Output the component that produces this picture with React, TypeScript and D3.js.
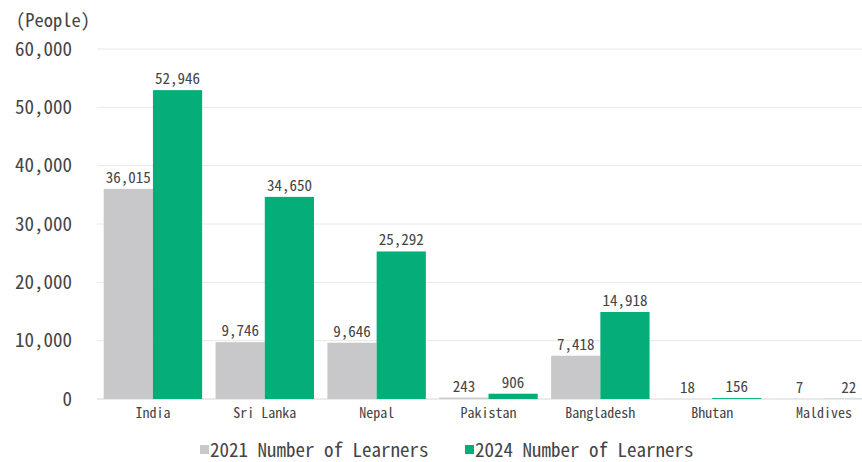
import React from 'react';
import * as d3 from 'd3';

const countries = ['India', 'Sri Lanka', 'Nepal', 'Pakistan', 'Bangladesh', 'Bhutan', 'Maldives'];
const learners2021 = [36015, 9746, 9646, 243, 7418, 18, 7];
const learners2024 = [52946, 34650, 25292, 906, 14918, 156, 22];
const yTicks = [0, 10000, 20000, 30000, 40000, 50000, 60000];
const seriesNames = ['2021 Number of Learners', '2024 Number of Learners'];
const colors = ['#c8c8ca', '#05ae78'];

const W = 862, H = 462;
const font = '"Noto Sans Mono CJK JP", "Liberation Mono", monospace';
const fmt = d3.format(',');

export default function App() {
  const x = d3.scaleBand<string>().domain(countries).range([97, 880]).paddingInner(0.12).paddingOuter(0.06);
  const sub = d3.scaleBand<number>().domain([0, 1]).range([0, x.bandwidth()]);
  const y = d3.scaleLinear().domain([0, 60000]).range([399, 49]);
  const series = [learners2021, learners2024];

  return (
    <svg width={W} height={H} style={{ position: 'absolute', left: 0, top: 0, background: '#fff' }} fontFamily={font}>
      <text x={16} y={27} fontSize={18.5} fill="#444">(People)</text>
      {yTicks.map(t => (
        <g key={t}>
          <line x1={97} x2={W} y1={y(t)} y2={y(t)} stroke={t === 0 ? '#d6d6d6' : '#e8e8e8'} strokeWidth={1} />
          <text x={72} y={y(t)} dy="0.35em" textAnchor="end" fontSize={19} fill="#444">{fmt(t)}</text>
        </g>
      ))}
      {countries.map((c, i) => (
        <g key={c}>
          {series.map((s, k) => {
            const bx = (x(c) as number) + (sub(k) as number);
            const v = s[i];
            return (
              <g key={k}>
                <rect x={bx} y={y(v)} width={sub.bandwidth()} height={y(0) - y(v)} fill={colors[k]} />
                <text x={bx + sub.bandwidth() / 2} y={y(v) - 6} textAnchor="middle" fontSize={15} fill="#444">{fmt(v)}</text>
              </g>
            );
          })}
          <text x={(x(c) as number) + x.bandwidth() / 2} y={418} textAnchor="middle" fontSize={14} fill="#444">{c}</text>
        </g>
      ))}
      {seriesNames.map((n, k) => (
        <g key={n} transform={`translate(${200 + k * 265},0)`}>
          <rect x={0} y={445} width={9} height={9} fill={colors[k]} />
          <text x={10} y={457} fontSize={19} fill="#444">{n}</text>
        </g>
      ))}
    </svg>
  );
}
